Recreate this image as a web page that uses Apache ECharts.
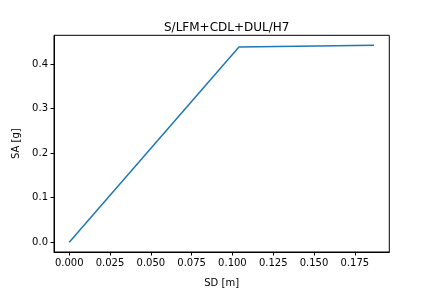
<!DOCTYPE html>
<html>
<head>
<meta charset="utf-8">
<script src="https://cdn.jsdelivr.net/npm/echarts@6/dist/echarts.min.js"></script>
<style>
  html, body { margin: 0; padding: 0; background: #fff; }
  #main { width: 432px; height: 288px; }
</style>
</head>
<body>
<div id="main"></div>
<script>
// pushover curve points
var sd = [0.0, 0.104, 0.1868];
var sa = [0.0, 0.4385, 0.4425];
var xTicks = [0.0, 0.025, 0.05, 0.075, 0.1, 0.125, 0.15, 0.175];
var yTicks = [0.0, 0.1, 0.2, 0.3, 0.4];

// matplotlib style 5% margins
var xMax = 0.1868, yMax = 0.4425;
var xPad = xMax * 0.05, yPad = yMax * 0.05;

var font = 'DejaVu Sans';

var option = {
  animation: false,
  title: {
    text: 'S/LFM+CDL+DUL/H7',
    left: 221.7,
    textAlign: 'center',
    top: 17,
    textStyle: { fontFamily: font, fontSize: 12, fontWeight: 'normal', color: '#000' }
  },
  grid: {
    left: 54, right: 42.7, top: 35.3, bottom: 36,
    outerBoundsMode: 'none',
    containLabel: false,
    show: true, borderColor: '#000', borderWidth: 1, backgroundColor: 'transparent'
  },
  xAxis: {
    type: 'value',
    min: -xPad, max: xMax + xPad,
    name: 'SD [m]', nameLocation: 'middle', nameGap: 26,
    nameTextStyle: { fontFamily: font, fontSize: 10, color: '#000' },
    splitLine: { show: false },
    axisLine: { show: true, onZero: false, lineStyle: { color: '#000', width: 1 } },
    axisTick: { show: true, length: 3.5, inside: false, customValues: xTicks, lineStyle: { color: '#000' } },
    axisLabel: {
      customValues: xTicks, margin: 6, fontFamily: font, fontSize: 10, color: '#000',
      formatter: function (v) { return v.toFixed(3); }
    }
  },
  yAxis: {
    type: 'value',
    min: -yPad, max: yMax + yPad,
    name: 'SA [g]', nameLocation: 'middle', nameGap: 33, nameRotate: 90,
    nameTextStyle: { fontFamily: font, fontSize: 10, color: '#000' },
    splitLine: { show: false },
    axisLine: { show: true, onZero: false, lineStyle: { color: '#000', width: 1 } },
    axisTick: { show: true, length: 3.5, inside: false, customValues: yTicks, lineStyle: { color: '#000' } },
    axisLabel: {
      customValues: yTicks, margin: 6, fontFamily: font, fontSize: 10, color: '#000',
      formatter: function (v) { return v.toFixed(1); }
    }
  },
  series: [{
    type: 'line',
    data: sd.map(function (x, i) { return [x, sa[i]]; }),
    showSymbol: false,
    lineStyle: { color: '#1f77b4', width: 1.5 }
  }]
};

var myChart = echarts.init(document.getElementById('main'), null, { renderer: 'canvas' });
myChart.setOption(option);
</script>
</body>
</html>
